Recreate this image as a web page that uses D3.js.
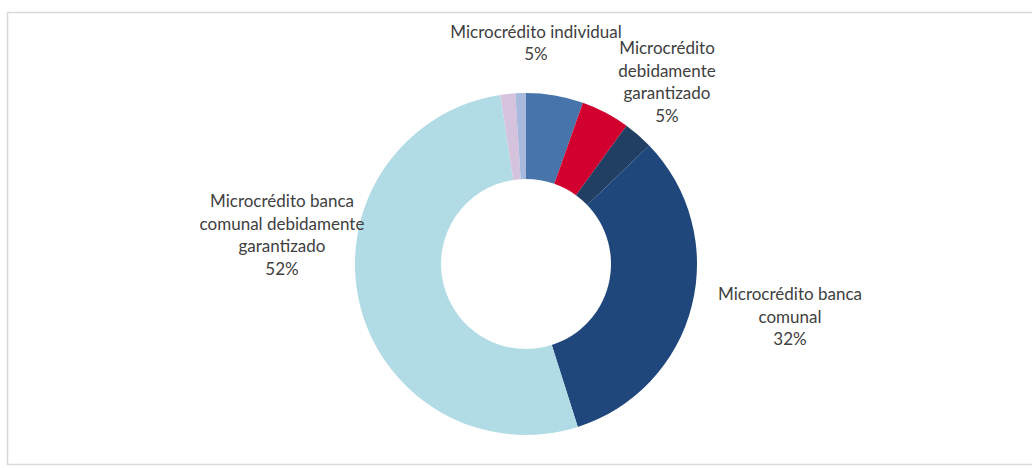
<!DOCTYPE html>
<html>
<head>
<meta charset="utf-8">
<script src="https://cdn.jsdelivr.net/npm/d3@7"></script>
<style>
  body { margin: 0; background: #ffffff; }
  svg { display: block; }
  .lbl { font-family: Lato, "Open Sans", sans-serif; font-size: 17px; fill: #404040; }
</style>
</head>
<body>
<div id="vis"></div>
<script>
const FRAME_WIDTH = 1032;
const FRAME_HEIGHT = 468;
const CENTER = {x: 526, y: 264};
const OUTER_R = 171;
const INNER_R = 85;

// data (clockwise from 12 o'clock)
const categories = ["Microcrédito individual",
                    "Microcrédito debidamente garantizado",
                    "Otros",
                    "Microcrédito banca comunal",
                    "Microcrédito banca comunal debidamente garantizado",
                    "Otros 2",
                    "Otros 3"];
const values = [5.4, 4.6, 2.8, 32.3, 52.5, 1.4, 1.0];
const pctLabels = ["5%", "5%", null, "32%", "52%", null, null];
const labelLines = [["Microcrédito individual"],
                    ["Microcrédito", "debidamente", "garantizado"],
                    null,
                    ["Microcrédito banca", "comunal"],
                    ["Microcrédito banca", "comunal debidamente", "garantizado"],
                    null,
                    null];
const colors = ["#4674ab", "#d2002e", "#213f62", "#1f477b", "#b1dbe5", "#d5c2dd", "#a8b9dd"];

// where each text block sits, relative to the donut centre
const labelOffsets = [[10, -221], [141, -182], null, [264, 53], [-244, -29], null, null];
const LINE_H = 22.5;

const data = categories.map((c, i) => ({cat: c, value: values[i], i: i}));

const svg = d3.select("#vis")
  .append("svg")
    .attr("width", FRAME_WIDTH)
    .attr("height", FRAME_HEIGHT);

// chart area border
svg.append("rect")
    .attr("x", 7.5)
    .attr("y", 12.5)
    .attr("width", FRAME_WIDTH)
    .attr("height", 452)
    .attr("fill", "none")
    .attr("stroke", "#d9d9d9")
    .attr("stroke-width", 1.5);

const pie = d3.pie()
    .value(d => d.value)
    .sort(null);

const arc = d3.arc()
    .innerRadius(INNER_R)
    .outerRadius(OUTER_R);

const g = svg.append("g")
    .attr("transform", "translate(" + CENTER.x + "," + CENTER.y + ")");

g.selectAll("path")
  .data(pie(data))
  .enter()
  .append("path")
    .attr("d", arc)
    .attr("fill", d => colors[d.data.i]);

// data labels
data.forEach((d, i) => {
  if (!labelLines[i]) return;
  const lines = labelLines[i].concat([pctLabels[i]]);
  const [ox, oy] = labelOffsets[i];
  const top = oy - (lines.length - 1) * LINE_H / 2;
  const t = g.append("text")
      .attr("class", "lbl")
      .attr("text-anchor", "middle");
  lines.forEach((line, k) => {
    t.append("tspan")
        .attr("x", ox)
        .attr("y", top + k * LINE_H)
        .attr("dy", "0.35em")
        .text(line);
  });
});
</script>
</body>
</html>
